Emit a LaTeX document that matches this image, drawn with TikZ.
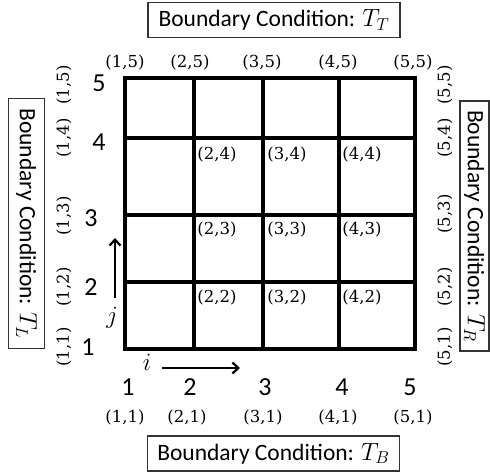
\documentclass[tikz,border=0pt]{standalone}
\usepackage{fontspec}
\setmainfont{Carlito}
\newfontfamily\coordfont{DejaVu Serif}
\usetikzlibrary{arrows.meta}
\begin{document}
\begin{tikzpicture}[x=1pt,y=-1pt,
  bcbox/.style={draw=black!80,line width=1.8pt,inner sep=0pt,minimum width=252pt,minimum height=35pt,font=\fontsize{23.5}{27}\selectfont},
  sidebox/.style={draw=black!80,line width=1.8pt,inner sep=0pt,minimum width=250pt,minimum height=36pt,rotate=-90,font=\fontsize{23.5}{27}\selectfont},
  idx/.style={inner sep=0pt,font=\fontsize{26}{30}\selectfont},
  crd/.style={inner sep=0pt,font=\coordfont\fontsize{16.5}{19}\selectfont},
  crdr/.style={crd,rotate=90},
  gridline/.style={line width=3.5pt,line cap=rect},
  dirarrow/.style={line width=2.2pt,-{Straight Barb[length=6pt,width=11pt,line width=2.2pt]}}]
\useasboundingbox (0,0) rectangle (490,473);
% boundary boxes
\node[bcbox] (top) at (274,20) {Boundary Condition: $T_T$};
\node[bcbox] (bot) at (273.5,453.5) {Boundary Condition: $T_B$};
\node[sidebox] (left) at (26.5,223.5) {Boundary Condition: $T_L$};
\node[sidebox,minimum width=250pt,minimum height=29pt] (right) at (474.5,226) {Boundary Condition: $T_R$};
% grid
\foreach \x in {125,194,263,339,415} \draw[gridline] (\x,78) -- (\x,349);
\foreach \y in {78,138,215,282,349} \draw[gridline] (125,\y) -- (415,\y);
% column indices and labels
\foreach \x/\n/\lx in {128/1/125,190/2/187,265/3/263,342/4/338,410/5/413}{
  \node[idx] (c\n) at (\x,387) {\n};
  \node[crd] (b\n) at (\lx,418) {(\n,1)};
}
\foreach \x/\n in {125/1,190/2,262/3,338/4,413/5}
  \node[crd] (t\n) at (\x,63) {(\n,5)};
% row indices
\node[idx] (r5) at (99,83) {5};
\node[idx] (r4) at (99,142) {4};
\node[idx] (r3) at (91,218) {3};
\node[idx] (r2) at (91,287) {2};
\node[idx] (r1) at (88,347) {1};
% left / right coordinate labels
\foreach \y/\n in {85/5,138/4,216/3,287/2,347/1}
  \node[crdr] (l\n) at (64,\y) {(1,\n)};
\foreach \y/\n in {85/5,138/4,214/3,287/2,347/1}
  \node[crdr] (rr\n) at (445,\y) {(5,\n)};
% interior labels
\foreach \x/\i in {217/2,287/3,362/4}
  \foreach \y/\j in {155/4,230/3,298/2}
    \node[crd] (p\i\j) at (\x,\y) {(\i,\j)};
% direction arrows
\coordinate (ja) at (115,298);
\coordinate (jb) at (115,238);
\draw[dirarrow] (ja) -- (jb);
\node[idx] (jl) at (112,318) {$j$};
\coordinate (ia) at (162,368);
\coordinate (ib) at (240,368);
\draw[dirarrow] (ia) -- (ib);
\node[idx] (il) at (147,362) {$i$};
\end{tikzpicture}
\end{document}
